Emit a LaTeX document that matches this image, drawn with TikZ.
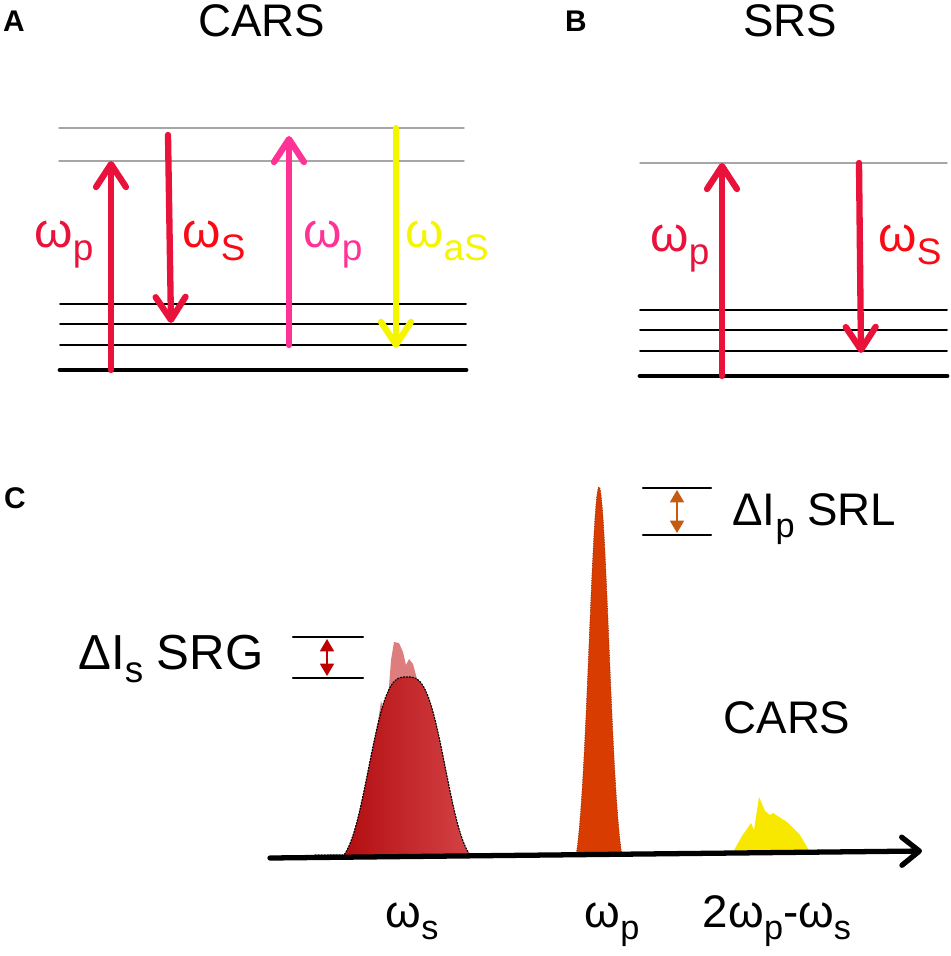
\documentclass[tikz,border=0pt]{standalone}
\usepackage{fontspec}
\setmainfont{Liberation Sans}
\usepackage{graphicx}
\usetikzlibrary{arrows.meta}

% subscript in the picture's labels
\newcommand{\lo}[1]{\raisebox{-0.27em}{\scalebox{0.75}{#1}}}

\begin{document}
\begin{tikzpicture}
[x=0.02cm,y=-0.02cm,line cap=round,
% Styles
level/.style={line width=1.1pt},
ground level/.style={line width=2.8pt},
virtual level/.style={gray!70,line width=0.8pt},
beam/.style={line width=3.6pt,-{Straight Barb[length=13pt,width=17pt,round]}},
big text/.style={font=\fontsize{26}{30}\selectfont,inner sep=0pt},
omega text/.style={font=\fontsize{28}{32}\selectfont,inner sep=0pt},
panel/.style={font=\bfseries\fontsize{17}{19}\selectfont,inner sep=0pt},
gain/.style={line width=0.7pt,{Triangle[length=7pt,width=8pt]}-{Triangle[length=7pt,width=8pt]}},
marker/.style={line width=1.4pt},
peak outline/.style={densely dotted,line width=0.7pt}]
% Colors
\definecolor{pumpcolor}{RGB}{233,18,58}
\definecolor{stokescolor}{RGB}{250,10,20}
\definecolor{probecolor}{RGB}{255,50,150}
\definecolor{antistokescolor}{RGB}{245,245,0}
\definecolor{srlcolor}{RGB}{197,90,17}
\definecolor{srgcolor}{RGB}{192,0,0}
\definecolor{pumpfill}{RGB}{216,60,0}
\definecolor{stokesdark}{RGB}{178,14,16}
\definecolor{stokeslight}{RGB}{212,66,70}
\definecolor{stokespale}{RGB}{222,125,125}
\definecolor{carsfill}{RGB}{248,232,0}

\useasboundingbox (0,0) rectangle (950,956);

% ---------- A: CARS ----------
\node[panel] (A) at (14,21) {A};
\node[big text] (cars title) at (262,21) {CARS};
\foreach \y in {128,161} \draw[virtual level] (59,\y) -- (464,\y);
\foreach \y in {304,324,345} \draw[level] (60,\y) -- (466,\y);
\draw[ground level] (60,370) -- (466,370);
\coordinate (p1 low) at (111,370);  \coordinate (p1 high) at (111,161);
\coordinate (s1 high) at (168,135); \coordinate (s1 low) at (171,323);
\coordinate (p2 low) at (289,345);  \coordinate (p2 high) at (289,136);
\coordinate (as high) at (396,128); \coordinate (as low) at (396,348);
\draw[beam,pumpcolor] (p1 low) -- (p1 high);
\draw[beam,pumpcolor] (s1 high) -- (s1 low);
\draw[beam,probecolor] (p2 low) -- (p2 high);
\draw[beam,antistokescolor] (as high) -- (as low);
\node[omega text,text=pumpcolor,anchor=base] (wp a) at (64,247) {ω\lo{p}};
\node[omega text,text=stokescolor,anchor=base] (ws a) at (214,247) {ω\lo{S}};
\node[omega text,text=probecolor,anchor=base] (wpr a) at (333,247) {ω\lo{p}};
\node[omega text,text=antistokescolor,anchor=base] (was a) at (447,247) {ω\lo{aS}};

% ---------- B: SRS ----------
\node[panel] (B) at (576,21) {B};
\node[big text] (srs title) at (790,21) {SRS};
\draw[virtual level] (640,163) -- (947,163);
\foreach \y in {310,330,351} \draw[level] (640,\y) -- (947,\y);
\draw[ground level] (640,376) -- (947,376);
\coordinate (p3 low) at (722,376);  \coordinate (p3 high) at (722,163);
\coordinate (s3 high) at (859,163); \coordinate (s3 low) at (861,353);
\draw[beam,pumpcolor] (p3 low) -- (p3 high);
\draw[beam,pumpcolor] (s3 high) -- (s3 low);
\node[omega text,text=pumpcolor,anchor=base] (wp b) at (680,251) {ω\lo{p}};
\node[omega text,text=stokescolor,anchor=base] (ws b) at (910,251) {ω\lo{S}};

% ---------- C: spectrum ----------
\node[panel] (C) at (15,498) {C};
% stokes band
\fill[stokespale] (366,855) -- (372,780) -- (378,722) -- (381,701)
  -- (384,712) -- (386,726) -- (388,700) -- (391,660) -- (394,642) -- (399,643)
  -- (403,652) -- (406,665) -- (409,659) -- (413,664) -- (420,690) -- (430,730)
  -- (440,780) -- (448,855) -- cycle;
\shade[left color=stokesdark,right color=stokeslight]
  plot[domain=344:470,samples=90] (\x,{855-178*(exp(-(abs(\x-407)/44)^3)-0.053)/0.947}) -- cycle;
\draw[peak outline] (315,855) -- plot[domain=344:470,samples=90] (\x,{855-178*(exp(-(abs(\x-407)/44)^3)-0.053)/0.947}) -- (490,855);
% pump line
\fill[pumpfill] plot[domain=576:622,samples=80] (\x,{856-369*(exp(-((\x-599)/14)^2)-0.067)/0.933}) -- cycle;
\draw[peak outline,pumpfill!70!black,line width=0.4pt] plot[domain=576:622,samples=80] (\x,{856-369*(exp(-((\x-599)/14)^2)-0.067)/0.933});
% anti-stokes signal
\fill[carsfill] (733,852) -- (742,836) -- (751,823) -- (754,830) -- (759,797)
  -- (765,811) -- (770,815) -- (773,813) -- (787,822) -- (800,835) -- (810,852) -- cycle;
% frequency axis
\coordinate (axis start) at (270,858);
\coordinate (axis end) at (922,851);
\draw[line width=3pt,-{Straight Barb[length=10pt,width=16pt,round]}] (axis start) -- (axis end);
% SRL marker
\coordinate (srl top) at (677,490); \coordinate (srl bottom) at (677,533);
\draw[marker] (643,488) -- (711,488);
\draw[marker] (643,535) -- (711,535);
\draw[gain,srlcolor] (srl top) -- (srl bottom);
\node[big text,anchor=base west] (srl) at (732,525) {ΔI\lo{p} SRL};
% SRG marker
\coordinate (srg top) at (327,639); \coordinate (srg bottom) at (327,676);
\draw[marker] (293,637) -- (363,637);
\draw[marker] (293,678) -- (363,678);
\draw[gain,srgcolor] (srg top) -- (srg bottom);
\node[big text,font=\fontsize{28}{32}\selectfont,anchor=base west] (srg) at (78,669) {ΔI\lo{s} SRG};
\node[big text] (cars signal) at (787,718) {CARS};
% axis labels
\node[big text,anchor=base] (ws c) at (412,927) {ω\lo{s}};
\node[big text,anchor=base] (wp c) at (612,927) {ω\lo{p}};
\node[big text,anchor=base] (was c) at (777,927) {2ω\lo{p}-ω\lo{s}};
\end{tikzpicture}
\end{document}
